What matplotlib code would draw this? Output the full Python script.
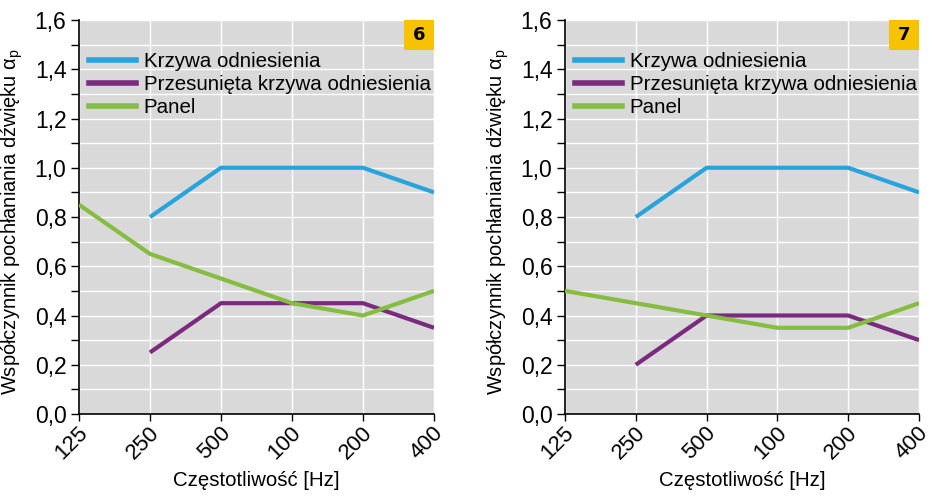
import matplotlib
matplotlib.use("Agg")
import matplotlib.pyplot as plt
from matplotlib.lines import Line2D
from matplotlib.transforms import ScaledTranslation
import matplotlib.font_manager as fm

names = {f.name for f in fm.fontManager.ttflist}
fam = "Liberation Sans Narrow" if "Liberation Sans Narrow" in names else "Liberation Sans"
plt.rcParams['font.family'] = [fam, 'DejaVu Sans']
plt.rcParams['mathtext.fontset'] = 'custom'
plt.rcParams['mathtext.rm'] = fam
plt.rcParams['mathtext.it'] = fam

freq_labels = ["125", "250", "500", "100", "200", "400"]
x_idx = [0, 1, 2, 3, 4, 5]

ref6 = [None, 0.80, 1.00, 1.00, 1.00, 0.90]
shift6 = [None, 0.25, 0.45, 0.45, 0.45, 0.35]
panel6 = [0.85, 0.65, 0.55, 0.45, 0.40, 0.50]

ref7 = [None, 0.80, 1.00, 1.00, 1.00, 0.90]
shift7 = [None, 0.20, 0.40, 0.40, 0.40, 0.30]
panel7 = [0.50, 0.45, 0.40, 0.35, 0.35, 0.45]

charts = [("6", ref6, shift6, panel6), ("7", ref7, shift7, panel7)]
series_names = ["Krzywa odniesienia", "Przesunięta krzywa odniesienia", "Panel"]
colors = ["#27A4DD", "#7A2B7E", "#86BD40"]

yticks = [0.0, 0.2, 0.4, 0.6, 0.8, 1.0, 1.2, 1.4, 1.6]
ytick_labels = ["0,0", "0,2", "0,4", "0,6", "0,8", "1,0", "1,2", "1,4", "1,6"]
minor_y = [0.1, 0.3, 0.5, 0.7, 0.9, 1.1, 1.3, 1.5]

fig = plt.figure(figsize=(9.32, 4.96), dpi=100)
W, H = 932, 496
axes_px = [(79, 434), (565, 919)]
top_px, bot_px = 20, 414

for (left, right), (badge, ref, shift, panel) in zip(axes_px, charts):
    ax = fig.add_axes([left / W, 1 - bot_px / H, (right - left) / W, (bot_px - top_px) / H])
    ax.set_facecolor("#D9D9D9")
    for sname, data, c in zip(series_names, [ref, shift, panel], colors):
        xs = [x for x, v in zip(x_idx, data) if v is not None]
        ys = [v for v in data if v is not None]
        ax.plot(xs, ys, color=c, lw=3, solid_capstyle='butt', label=sname, zorder=3)
    ax.set_xlim(0, 5)
    ax.set_ylim(0, 1.6)
    ax.set_yticks(yticks)
    ax.set_yticklabels(ytick_labels, fontsize=16.5)
    ax.set_yticks(minor_y, minor=True)
    ax.set_xticks(x_idx)
    ax.set_xticklabels(freq_labels, fontsize=16, rotation=45, ha='right', va='center',
                       rotation_mode='anchor')
    ax.tick_params(axis='x', pad=6.5, length=5, width=1)
    ax.tick_params(axis='y', which='both', length=6, width=1, pad=3)
    offset = ScaledTranslation(0.06, 0, fig.dpi_scale_trans)
    for lab in ax.get_xticklabels():
        lab.set_transform(lab.get_transform() + offset)
    ax.grid(True, which='both', color='white', lw=1)
    ax.set_axisbelow(True)
    for s in ['top', 'right']:
        ax.spines[s].set_visible(False)
    for s in ['left', 'bottom']:
        ax.spines[s].set_linewidth(1.2)
    ax.set_xlabel("Częstotliwość [Hz]", fontsize=14.7)
    ax.xaxis.set_label_coords(0.5, -0.145)
    ax.set_ylabel(r"Współczynnik pochłaniania dźwięku $\alpha_{\mathrm{p}}$", fontsize=14.5)
    ax.yaxis.set_label_coords(-0.153, 0.487)
    handles = [Line2D([], [], color=c, lw=4) for c in colors]
    ax.legend(handles, series_names, loc='upper left', bbox_to_anchor=(0.0, 0.945),
              frameon=False, fontsize=14.8, handlelength=2.25, handletextpad=0.4,
              labelspacing=0.2, borderaxespad=0.0, borderpad=0.5)
    # badge
    bw = 30 / (right - left)
    bh = 30 / (bot_px - top_px)
    ax.add_patch(plt.Rectangle((1 - bw, 1 - bh), bw, bh, transform=ax.transAxes,
                               facecolor="#F7C200", edgecolor='none', zorder=5, clip_on=False))
    ax.text(1 - bw / 2, 1 - bh / 2, badge, transform=ax.transAxes, ha='center', va='center',
            fontsize=13, fontweight='bold', zorder=6, family='DejaVu Sans')

fig.savefig("out.png", dpi=100)
